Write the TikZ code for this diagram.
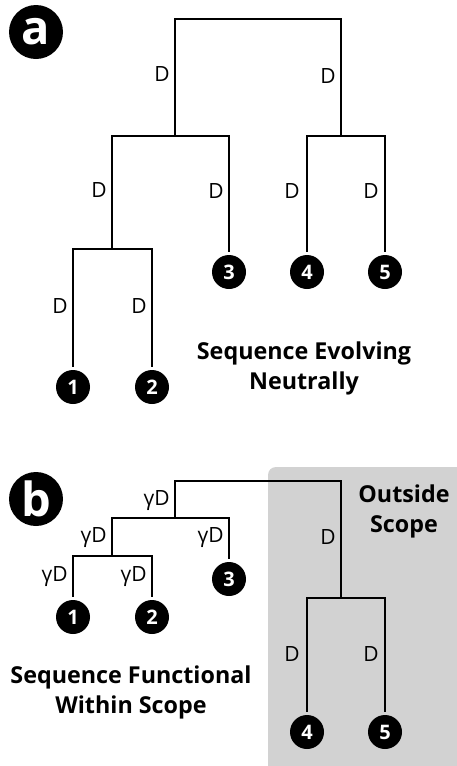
\documentclass[tikz,border=0pt]{standalone}
\usepackage{fontspec}
\setmainfont{Open Sans}
\begin{document}
\begin{tikzpicture}[x=1pt,y=-1pt,
  branch/.style={line width=1.8pt, line cap=rect},
  leaf/.style={circle, fill=black, text=white, inner sep=0pt, minimum size=34pt, outer sep=4pt,
     font=\bfseries\fontsize{20}{20}\selectfont},
  panel/.style={circle, fill=black, text=white, inner sep=0pt, minimum size=54pt,
     font=\bfseries\fontsize{47}{47}\selectfont},
  blab/.style={anchor=east, inner sep=0pt, font=\fontsize{21}{21}\selectfont},
  title/.style={align=center, font=\bfseries\fontsize{23.3}{30}\selectfont}
]
\useasboundingbox (0,0) rectangle (457,766);
% ---------- panel a ----------
\node[panel] (pa) at (36,32) {\raisebox{1pt}{a}};
\node[leaf] (a1) at (73,387) {1};
\node[leaf] (a2) at (152,387) {2};
\node[leaf] (a3) at (229,272) {3};
\node[leaf] (a4) at (307,272) {4};
\node[leaf] (a5) at (385,272) {5};
\coordinate (aR) at (258,19);
\coordinate (aA) at (175,136);
\coordinate (aB) at (341,136);
\coordinate (aC) at (112,249);
\draw[branch] (aA) |- (aR) -| (aB);
\draw[branch] (aC) |- (aA) -| (a3.north);
\draw[branch] (a1.north) |- (aC) -| (a2.north);
\draw[branch] (a4.north) |- (aB) -| (a5.north);
\node[blab] (da1) at (170,74) {D};
\node[blab] (da2) at (336,76) {D};
\node[blab] (da3) at (107,190) {D};
\node[blab] (da4) at (224,191) {D};
\node[blab] (da5) at (300,191) {D};
\node[blab] (da6) at (379,191) {D};
\node[blab] (da7) at (68,306) {D};
\node[blab] (da8) at (147,306) {D};
\node[title] (ta) at (304,368) {Sequence Evolving\\Neutrally};
% ---------- panel b ----------
\fill[gray!35, rounded corners=8pt] (268,467) rectangle (470,780);
\node[panel] (pb) at (36,499) {b};
\node[leaf] (b1) at (73,617) {1};
\node[leaf] (b2) at (152,617) {2};
\node[leaf] (b3) at (229,579) {3};
\node[leaf] (b4) at (307,732) {4};
\node[leaf] (b5) at (385,732) {5};
\coordinate (bR) at (258,481);
\coordinate (bA) at (175,518);
\coordinate (bB) at (341,598);
\coordinate (bC) at (112,556);
\draw[branch] (bA) |- (bR) -| (bB);
\draw[branch] (bC) |- (bA) -| (b3.north);
\draw[branch] (b1.north) |- (bC) -| (b2.north);
\draw[branch] (b4.north) |- (bB) -| (b5.north);
\node[blab] (db1) at (170,501) {γD};
\node[blab] (db2) at (107,538) {γD};
\node[blab] (db3) at (224,538) {γD};
\node[blab] (db4) at (68,577) {γD};
\node[blab] (db5) at (147,577) {γD};
\node[blab] (db6) at (336,537) {D};
\node[blab] (db7) at (300,654) {D};
\node[blab] (db8) at (379,654) {D};
\node[title] (to) at (404,511) {Outside\\Scope};
\node[title] (tb) at (131,692) {Sequence Functional\\Within Scope};
\end{tikzpicture}
\end{document}
